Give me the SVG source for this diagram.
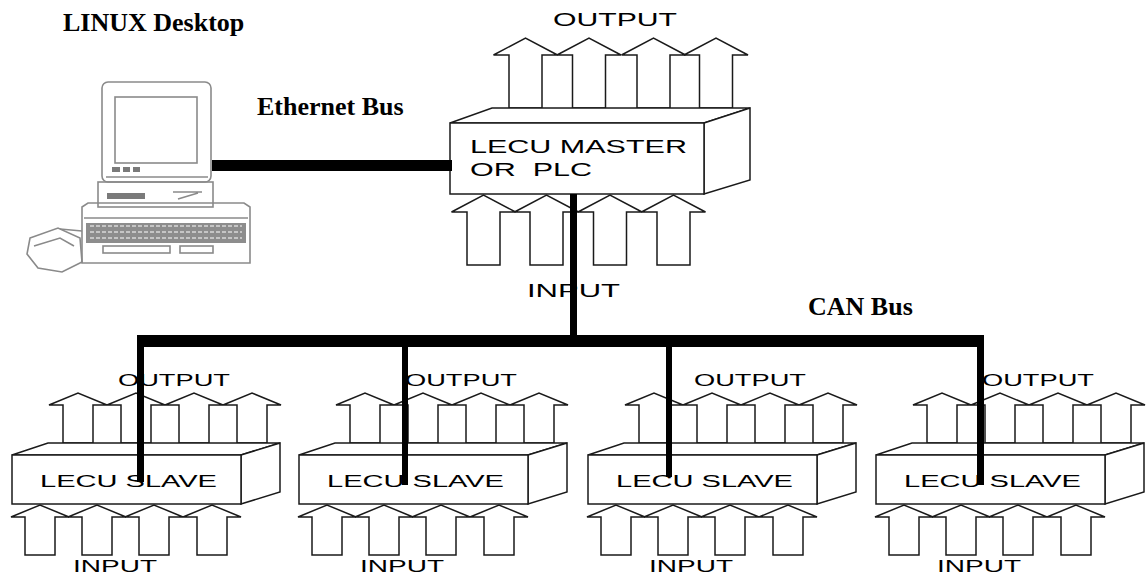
<svg xmlns="http://www.w3.org/2000/svg" xmlns:xlink="http://www.w3.org/1999/xlink" width="1148" height="576" viewBox="0 0 1148 576">
  <style>
    .ln { fill: #fff; stroke: #1a1a1a; stroke-width: 1.5; stroke-linejoin: miter; }
    .sans { font-family: "Liberation Sans", Arial, sans-serif; fill: #000; }
    .m { font-size: 19px; }
    .s { font-size: 16px; }
    .lbl { font-family: "Liberation Serif", "Times New Roman", serif; font-weight: bold; font-size: 26px; fill: #000; }
    .bus { fill: #000; }
    .pc { fill: none; stroke: #8a8a8a; stroke-width: 1.6; }
    .pcf { fill: #7a7a7a; stroke: none; }
  </style>
  <defs>
    <!-- large block arrow (apex at 0,0) -->
    <path id="arrM" class="ln" d="M-32,17 L0,0 L32,17 L16.5,17 L16.5,70 L-16.5,70 L-16.5,17 Z"/>
    <!-- small block arrow -->
    <path id="arrS" class="ln" d="M-29,12 L0,0 L29,12 L15,12 L15,50 L-15,50 L-15,12 Z"/>
    <filter id="soft" x="-5%" y="-5%" width="110%" height="110%">
      <feGaussianBlur stdDeviation="0.5"/>
    </filter>
    <!-- slave unit drawn at origin -->
    <g id="slaveUnit">
      <use xlink:href="#arrS" x="78" y="393"/>
      <use xlink:href="#arrS" x="136" y="393"/>
      <use xlink:href="#arrS" x="194" y="393"/>
      <use xlink:href="#arrS" x="252" y="393"/>
      <polygon class="ln" points="12,455 48,443 280,443 241,455"/>
      <polygon class="ln" points="241,455 280,443 280,492 241,504"/>
      <rect class="ln" x="12" y="455" width="229" height="49"/>
      <use xlink:href="#arrS" x="40" y="505"/>
      <use xlink:href="#arrS" x="97" y="505"/>
      <use xlink:href="#arrS" x="154" y="505"/>
      <use xlink:href="#arrS" x="212" y="505"/>
      <text class="sans s" x="118" y="386" textLength="112" lengthAdjust="spacingAndGlyphs">OUTPUT</text>
      <text class="sans s" x="40" y="487" textLength="177" lengthAdjust="spacingAndGlyphs">LECU SLAVE</text>
      <text class="sans s" x="73" y="572" textLength="84" lengthAdjust="spacingAndGlyphs">INPUT</text>
    </g>
  </defs>

  <rect width="1148" height="576" fill="#fff"/>

  <!-- desktop computer -->
  <g id="linux-desktop">
    <g filter="url(#soft)">
      <rect class="pc" x="102" y="82" width="109" height="100" rx="6"/>
      <rect class="pc" x="115" y="97" width="82" height="66"/>
      <line class="pc" x1="106" y1="177" x2="208" y2="177"/>
      <rect class="pcf" x="112" y="167" width="8" height="5"/>
      <rect class="pcf" x="123" y="167" width="7" height="5"/>
      <rect class="pcf" x="133" y="167" width="7" height="5"/>
      <rect class="pc" x="98" y="182" width="115" height="25"/>
      <rect class="pcf" x="107" y="193" width="38" height="6"/>
      <path class="pc" d="M173,192 L202,192 M178,199 L198,193"/>
      <path class="pc" d="M82,207 L88,203 L244,203 L250,207 L250,263 L82,263 Z"/>
      <line class="pc" x1="84" y1="218" x2="248" y2="218"/>
      <rect x="86" y="223" width="160" height="20" fill="#8d8d8d"/>
      <path d="M90,226 H242 M90,232 H242 M90,238 H242" stroke="#d8d8d8" stroke-width="1.4" stroke-dasharray="4 2"/>
      <rect class="pc" x="103" y="246" width="67" height="7"/>
      <rect class="pc" x="180" y="246" width="33" height="7"/>
      <path class="pc" d="M82,231 L60,229"/>
      <path class="pc" d="M30,238 L58,228 L80,238 L82,262 L62,272 L38,268 L27,254 Z"/>
      <path class="pc" d="M34,246 L60,238 L74,246"/>
    </g>
  </g>

  <!-- master controller -->
  <g id="lecu-master">
    <use xlink:href="#arrM" x="525.5" y="38"/>
    <use xlink:href="#arrM" x="589" y="38"/>
    <use xlink:href="#arrM" x="653.5" y="38"/>
    <use xlink:href="#arrM" x="716" y="38"/>
    <polygon class="ln" points="450,123 492,108 750,108 704,123"/>
    <polygon class="ln" points="704,123 750,108 750,180 704,194"/>
    <rect class="ln" x="450" y="123" width="254" height="71"/>
    <use xlink:href="#arrM" x="483.5" y="195"/>
    <use xlink:href="#arrM" x="546.5" y="195"/>
    <use xlink:href="#arrM" x="610" y="195"/>
    <use xlink:href="#arrM" x="673.5" y="195"/>
    <text class="sans m" x="553" y="26" textLength="124" lengthAdjust="spacingAndGlyphs">OUTPUT</text>
    <text class="sans m" x="470" y="153" textLength="217" lengthAdjust="spacingAndGlyphs">LECU MASTER</text>
    <text class="sans m" x="470" y="176" textLength="122" lengthAdjust="spacingAndGlyphs" xml:space="preserve">OR  PLC</text>
    <text class="sans m" x="527" y="297" textLength="93" lengthAdjust="spacingAndGlyphs">INPUT</text>
  </g>

  <!-- slave controllers -->
  <g id="slave-1"><use xlink:href="#slaveUnit"/></g>
  <g id="slave-2"><use xlink:href="#slaveUnit" x="287"/></g>
  <g id="slave-3"><use xlink:href="#slaveUnit" x="576"/></g>
  <g id="slave-4"><use xlink:href="#slaveUnit" x="864"/></g>

  <!-- bus labels -->
  <g id="labels">
    <text class="lbl" x="63" y="31">LINUX Desktop</text>
    <text class="lbl" x="257" y="115">Ethernet Bus</text>
    <text class="lbl" x="808" y="315">CAN Bus</text>
  </g>

  <!-- ethernet and CAN bus wiring -->
  <g id="connectors">
    <rect class="bus" x="212" y="160" width="240" height="11"/>
    <rect class="bus" x="570" y="194" width="7" height="144"/>
    <rect class="bus" x="137" y="335" width="847" height="12"/>
    <rect class="bus" x="137" y="340" width="7" height="142"/>
    <rect class="bus" x="402" y="340" width="6" height="145"/>
    <rect class="bus" x="666" y="340" width="6" height="137"/>
    <rect class="bus" x="977" y="340" width="7" height="145"/>
  </g>
</svg>
